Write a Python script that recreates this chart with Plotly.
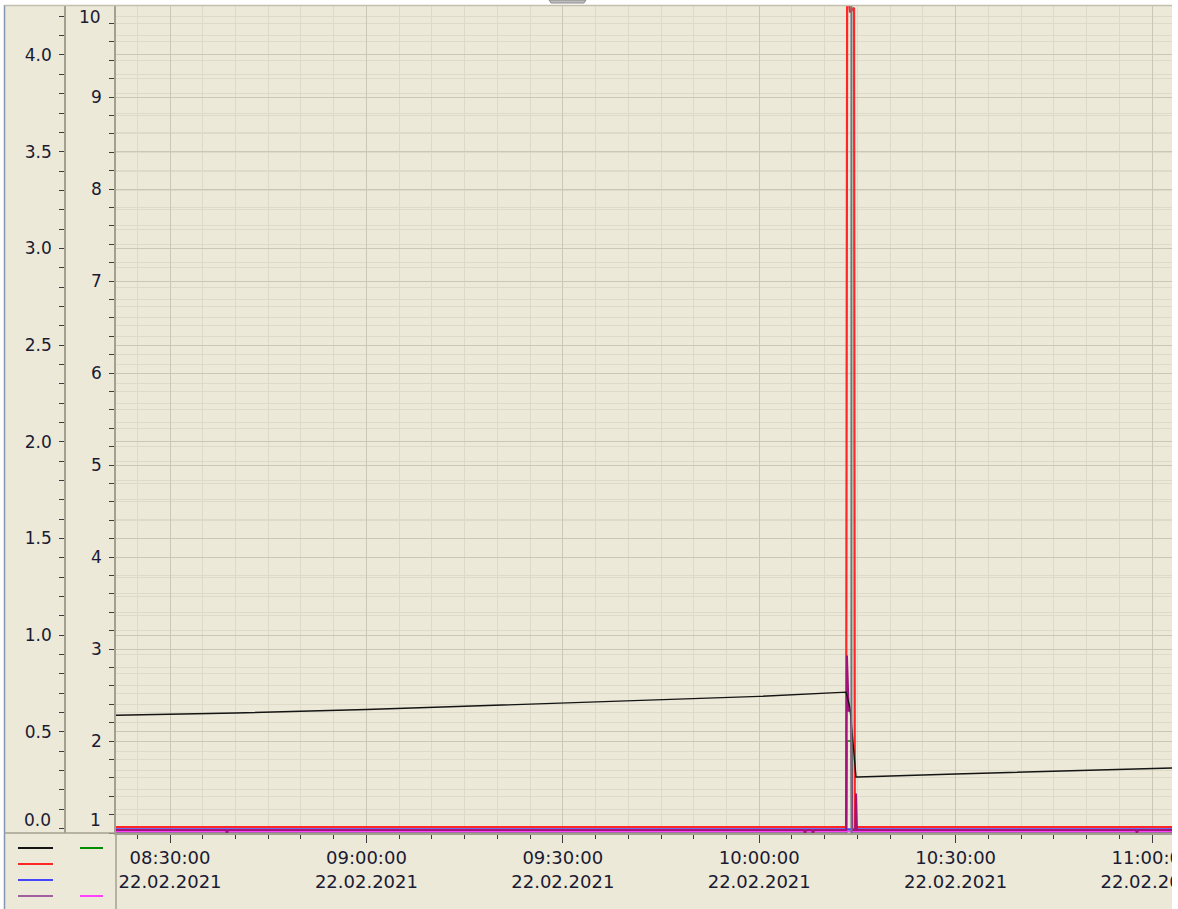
import plotly.graph_objects as go

D = "2021-02-22 "

# ---- data ----
black_times = ["08:21:45", "08:40:00", "09:00:00", "09:30:00", "10:00:00", "10:13:16",
               "10:13:52", "10:14:47", "10:15:05", "10:30:00", "10:45:00", "11:03:03"]
black_vals = [0.586, 0.597, 0.615, 0.648, 0.683, 0.705,
              0.623, 0.266, 0.266, 0.282, 0.297, 0.313]

red_times = ["08:21:45", "10:13:16", "10:13:26", "10:13:52", "10:14:29", "10:14:36", "11:03:03"]
red_vals = [1.065, 1.065, 10.3, 9.92, 9.97, 1.065, 1.065]

purple_times = ["08:21:45", "08:38:30", "08:38:42", "08:38:54", "10:06:48", "10:07:00", "10:07:12",
                "10:08:01", "10:08:13", "10:08:25", "10:13:16", "10:13:24", "10:13:40", "10:14:01",
                "10:14:12", "10:14:40", "10:14:47", "10:14:56", "10:57:30", "10:57:42", "10:57:54",
                "11:03:03"]
purple_vals = [1.033, 1.033, 1.0, 1.033, 1.033, 1.0, 1.033,
               1.033, 1.0, 1.033, 1.033, 2.93, 2.33, 2.33,
               1.033, 1.033, 1.43, 1.033, 1.033, 1.0, 1.033,
               1.033]

blue_times = ["08:21:45", "11:03:03"]
blue_vals = [1.04, 1.04]

green_times = ["08:21:45", "10:13:22", "10:13:24", "10:14:10", "10:14:12", "11:03:03"]
green_vals = [1.0, 1.0, 2.0, 2.0, 1.0, 1.0]

magenta_times = ["08:21:45", "11:03:03"]
magenta_vals = [1.015, 1.015]

cursor_time = "10:14:05"

x_range = ["08:21:45", "11:03:03"]
x_tick_times = ["08:30:00", "09:00:00", "09:30:00", "10:00:00", "10:30:00", "11:00:00"]
x_tick_labels = ["08:30:00<br>22.02.2021", "09:00:00<br>22.02.2021", "09:30:00<br>22.02.2021",
                 "10:00:00<br>22.02.2021", "10:30:00<br>22.02.2021", "11:00:00<br>22.02.2021"]

inner_ticks = [2, 3, 4, 5, 6, 7, 8, 9]
inner_labels = ["2", "3", "4", "5", "6", "7", "8", "9"]
outer_ticks = [0.5, 1.0, 1.5, 2.0, 2.5, 3.0, 3.5, 4.0]
outer_labels = ["0.5", "1.0", "1.5", "2.0", "2.5", "3.0", "3.5", "4.0"]

# ---- styles ----
W, H = 1178, 909
BEIGE = "#ECE9D8"
GRID_MAJOR = "#CBC7B4"
GRID_MINOR = "#DEDAC9"
AXIS = "#A3A090"
TICK = "#3C3C3C"
TXT = "#1A1A33"
FONT = "DejaVu Sans"

def px(x):
    return x / W

def py(y):
    return 1 - y / H

def ts(lst):
    return [D + t for t in lst]

fig = go.Figure()

def add(times, vals, color, width, axis="y2"):
    fig.add_trace(go.Scatter(x=ts(times), y=vals, mode="lines", yaxis=axis,
                             line=dict(color=color, width=width), hoverinfo="skip"))

add(green_times, green_vals, "#008C00", 1.5, "y")
add(magenta_times, magenta_vals, "#FF40FF", 2, "y")
add(blue_times, blue_vals, "#4646FF", 2.2, "y")
add(red_times, red_vals, "#FF2626", 2.2, "y")
add(purple_times, purple_vals, "#A0147A", 2, "y")
add(black_times, black_vals, "#141414", 1.4, "y2")

fig.update_layout(
    width=W, height=H,
    margin=dict(l=0, r=0, t=0, b=0, pad=0, autoexpand=False),
    paper_bgcolor=BEIGE, plot_bgcolor=BEIGE,
    showlegend=False, hovermode=False,
    font=dict(family=FONT, size=17, color=TXT),
    xaxis=dict(
        domain=[px(116), px(1172)], type="date", range=ts(x_range), automargin=False,
        tickmode="array", tickvals=ts(x_tick_times), ticktext=x_tick_labels,
        ticks="outside", ticklen=8, tickwidth=1, tickcolor=TICK,
        tickfont=dict(family=FONT, size=18, color=TXT), ticklabeloverflow="allow",
        showgrid=True, gridcolor=GRID_MAJOR, gridwidth=1.3,
        showline=True, linecolor=AXIS, linewidth=1.5, zeroline=False,
        minor=dict(tick0=D + "08:30:00", dtick=300000, ticks="outside", ticklen=4,
                   tickcolor=TICK, showgrid=True, gridcolor=GRID_MINOR, gridwidth=1),
    ),
    yaxis=dict(
        domain=[py(833), py(5)], anchor="x", range=[1.0, 10.0], automargin=False,
        tickmode="array", tickvals=inner_ticks, ticktext=inner_labels,
        ticks="outside", ticklen=5, tickcolor=TICK, ticklabelstandoff=4,
        showgrid=True, gridcolor=GRID_MAJOR, gridwidth=1.3,
        showline=True, linecolor=AXIS, linewidth=1.5, zeroline=False,
        minor=dict(tick0=1, dtick=0.2, ticks="outside", ticklen=5, tickcolor=TICK,
                   showgrid=True, gridcolor=GRID_MINOR, gridwidth=1),
    ),
    yaxis2=dict(
        overlaying="y", anchor="free", position=px(65), side="left", automargin=False,
        range=[-0.0233, 4.2585],
        tickmode="array", tickvals=outer_ticks, ticktext=outer_labels,
        ticks="outside", ticklen=5, tickcolor=TICK, ticklabelstandoff=4,
        showgrid=True, gridcolor=GRID_MAJOR, gridwidth=1.3,
        showline=True, linecolor=AXIS, linewidth=1.5, zeroline=False,
        minor=dict(tick0=0, dtick=0.1, ticks="outside", ticklen=5, tickcolor=TICK,
                   showgrid=True, gridcolor=GRID_MINOR, gridwidth=1),
    ),
)

shapes = [
    # cursor line at a data time
    dict(type="line", xref="x", yref="y domain", x0=D + cursor_time, x1=D + cursor_time,
         y0=0, y1=1, line=dict(color="#6E7780", width=2), layer="above"),
    # white frame outside the panel
    dict(type="rect", xref="paper", yref="paper", x0=px(1172), x1=1, y0=0, y1=1,
         fillcolor="white", line=dict(width=0), layer="above"),
    dict(type="rect", xref="paper", yref="paper", x0=0, x1=1, y0=py(5), y1=1,
         fillcolor="white", line=dict(width=0), layer="above"),
    dict(type="rect", xref="paper", yref="paper", x0=0, x1=px(4), y0=0, y1=1,
         fillcolor="white", line=dict(width=0), layer="above"),
    # borders
    dict(type="line", xref="paper", yref="paper", x0=px(4.5), x1=px(4.5), y0=0, y1=py(5),
         line=dict(color="#8497B0", width=1.5), layer="above"),
    dict(type="line", xref="paper", yref="paper", x0=px(4.5), x1=px(1172), y0=py(5.5), y1=py(5.5),
         line=dict(color="#C2BFAD", width=1.5), layer="above"),
    dict(type="line", xref="paper", yref="paper", x0=px(4.5), x1=px(116), y0=py(833), y1=py(833),
         line=dict(color=AXIS, width=1.5), layer="above"),
    dict(type="line", xref="paper", yref="paper", x0=px(116), x1=px(116), y0=0, y1=py(833),
         line=dict(color=AXIS, width=1.5), layer="above"),
    # small tab at the top
    dict(type="path", xref="paper", yref="paper",
         path=f"M {px(549)},1 L {px(551)},{py(3)} L {px(584)},{py(3)} L {px(586)},1 Z",
         fillcolor="#BDBDBD", line=dict(color="#8C8C8C", width=1), layer="above"),
]

legend_items = [("#141414", 18, 53, 848), ("#FF2626", 18, 53, 864), ("#4646FF", 18, 53, 880),
                ("#A0609F", 18, 53, 896), ("#008C00", 80, 103, 848), ("#FF40FF", 80, 103, 896)]
for c, xa, xb, yy in legend_items:
    shapes.append(dict(type="line", xref="paper", yref="paper", x0=px(xa), x1=px(xb),
                       y0=py(yy), y1=py(yy), line=dict(color=c, width=2), layer="above"))

fig.update_layout(shapes=shapes)

annots = [("10", 103, 17), ("1", 103, 820), ("0.0", 53, 820)]
for t, xr, yc in annots:
    fig.add_annotation(text=t, xref="paper", yref="paper", x=px(xr), y=py(yc),
                       xanchor="right", yanchor="middle", showarrow=False,
                       font=dict(family=FONT, size=17, color=TXT))

fig.write_html("out.html", config={"displayModeBar": False},
               post_script="document.body.style.margin='0';document.body.style.overflow='hidden';")
